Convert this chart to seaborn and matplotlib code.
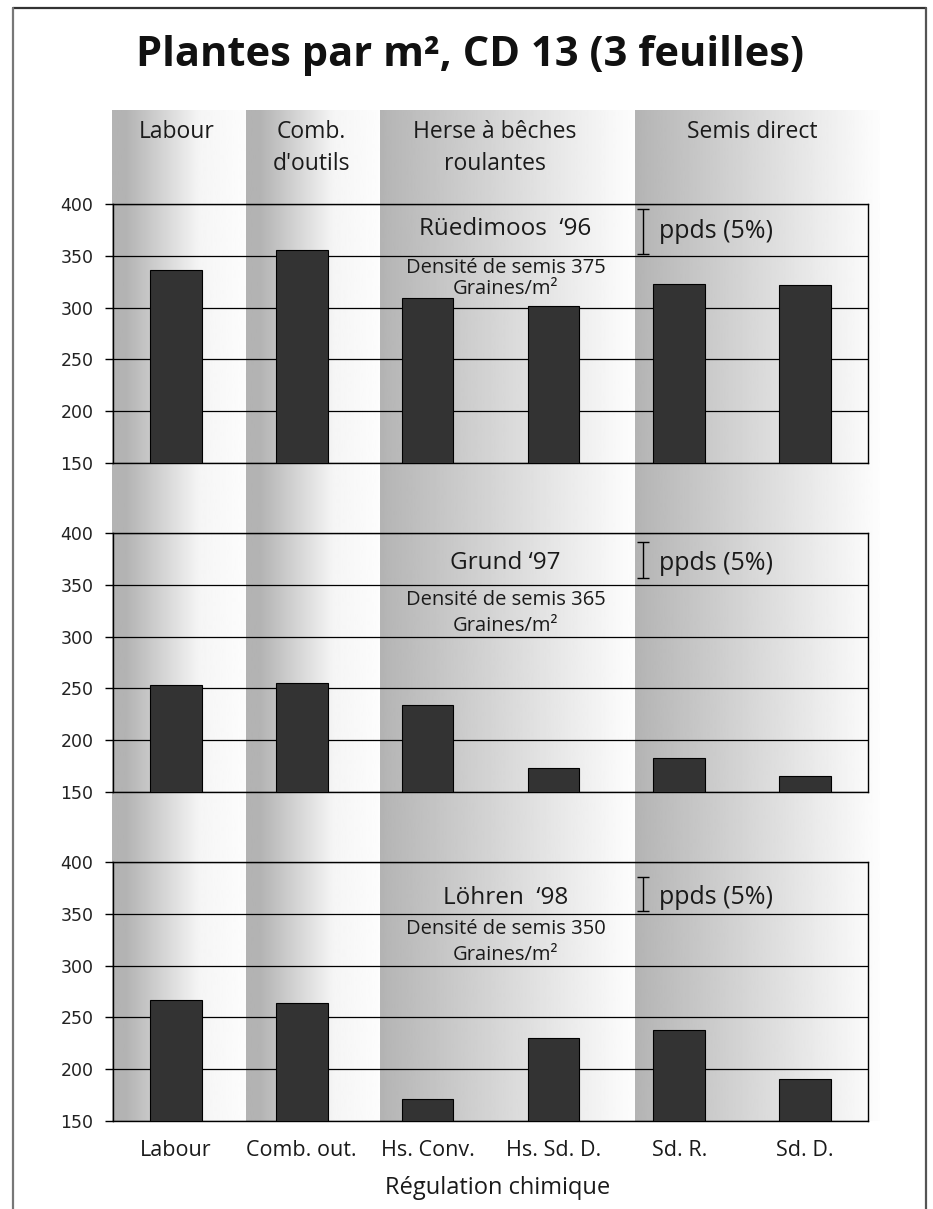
import numpy as np
import pandas as pd
import seaborn as sns

import matplotlib
matplotlib.use("Agg")  # headless mode (no GUI)

import matplotlib.pyplot as plt

# Data
categories = ["Labour", "Comb. out.", "Hs. Conv.", "Hs. Sd. D.", "Sd. R.", "Sd. D."]
sites = ["Rüedimoos  \u201896", "Grund \u201897", "Löhren  \u201898"]
ruedimoos_96 = [336, 356, 309, 302, 323, 322]
grund_97 = [253, 255.5, 234, 173, 183, 165]
lohren_98 = [267, 263.5, 171, 230.5, 237.5, 191]
seed_density = [375, 365, 350]
ppds_low = [352, 357, 353]
ppds_high = [395, 391, 386]
tillage_groups = ["Labour", "Comb.\nd'outils", "Herse à bêches\nroulantes", "Semis direct"]
y_ticks = [150, 200, 250, 300, 350, 400]

df = pd.DataFrame({
    "site": np.repeat(sites, len(categories)),
    "traitement": categories * len(sites),
    "plantes": ruedimoos_96 + grund_97 + lohren_98,
})

W, H = 933, 1209
sns.set_style("white")
plt.rcParams["font.family"] = ["Open Sans", "DejaVu Sans"]

fig = plt.figure(figsize=(W / 100, H / 100), dpi=100)

# background layer in pixel coordinates: frame, gradient bands, header
bg = fig.add_axes([0, 0, 1, 1])
bg.set_xlim(0, W)
bg.set_ylim(H, 0)
bg.axis("off")

band_edges = [112, 246, 380, 635, 880]
band_profiles = [
    ([0, 0.1, 0.65, 1], [0.70, 0.70, 0.96, 0.99]),
    ([0, 0.1, 0.65, 1], [0.70, 0.70, 0.96, 0.99]),
    ([0, 0.05, 0.95, 1], [0.70, 0.72, 0.98, 0.99]),
    ([0, 0.05, 0.95, 1], [0.70, 0.72, 0.98, 0.99]),
]
for (x0, x1), (pts, vals) in zip(zip(band_edges[:-1], band_edges[1:]), band_profiles):
    t = np.linspace(0, 1, 256)
    grad = np.interp(t, pts, vals)[None, :]
    bg.imshow(grad, cmap="gray", vmin=0, vmax=1, aspect="auto",
              extent=(x0, x1, 1121, 110), interpolation="bilinear")

header_x = [177, 311, 495, 752]
for label, hx in zip(tillage_groups, header_x):
    bg.text(hx, 120, label, ha="center", va="top", fontsize=16.5,
            color="#1a1a1a", linespacing=1.45)

bg.plot([13, 926], [8, 8], color="#333333", lw=1.6)
bg.plot([13, 13], [8, H], color="#777777", lw=1.6)
bg.plot([926, 926], [8, H], color="#555555", lw=1.6)

bg.text(470, 56, "Plantes par m², CD 13 (3 feuilles)", ha="center", va="center",
        fontsize=30, fontweight="bold", color="#111111")

# three panels
panel_px = [(204, 463), (533, 792), (862, 1121)]
text_y = [(376, 338, 318, 373), (371, 335.5, 310.5, 371), (365.5, 335.5, 310.5, 365.5)]
left, right = 113, 868

for i, (site, (top, bottom)) in enumerate(zip(sites, panel_px)):
    ax = fig.add_axes([left / W, 1 - bottom / H, (right - left) / W, (bottom - top) / H])
    ax.patch.set_alpha(0)
    sns.barplot(data=df[df["site"] == site], x="traitement", y="plantes",
                color="#333333", saturation=1, width=0.41,
                edgecolor="black", linewidth=0.8, ax=ax, zorder=3)
    ax.set_xlim(-0.5, 5.5)
    ax.set_ylim(150, 400)
    ax.set_yticks(y_ticks)
    ax.set_yticklabels([str(v) for v in y_ticks], family="DejaVu Sans",
                       fontsize=12.5, color="#222222")
    ax.tick_params(axis="y", length=6, width=1, color="black", pad=8, left=True)
    ax.yaxis.grid(True, color="black", lw=0.9)
    ax.set_axisbelow(True)
    for sp in ax.spines.values():
        sp.set_visible(True)
        sp.set_color("black")
        sp.set_linewidth(1.0)
    ax.set_xlabel("")
    ax.set_ylabel("")
    if i < 2:
        ax.set_xticks([])
    else:
        ax.set_xticks(range(len(categories)))
        ax.set_xticklabels(categories, fontsize=15.5, color="#1a1a1a")
        ax.tick_params(axis="x", length=0, pad=14)

    ty, dy, gy, py = text_y[i]
    ax.text(2.62, ty, site, ha="center", va="center", fontsize=17.5, color="#1a1a1a")
    ax.text(2.62, dy, f"Densité de semis {seed_density[i]}", ha="center",
            va="center", fontsize=14.5, color="#1a1a1a")
    ax.text(2.62, gy, "Graines/m²", ha="center", va="center", fontsize=14.5,
            color="#1a1a1a")
    mid = (ppds_low[i] + ppds_high[i]) / 2
    half = (ppds_high[i] - ppds_low[i]) / 2
    ax.errorbar(3.71, mid, yerr=half, color="black", lw=1, capsize=4,
                capthick=1, zorder=4)
    ax.text(3.84, py, "ppds (5%)", ha="left", va="center", fontsize=18,
            color="#1a1a1a")

fig.text(498 / W, 1 - 1188 / H, "Régulation chimique", ha="center", va="center",
         fontsize=17, color="#1a1a1a")

fig.savefig("out.png", dpi=100)
